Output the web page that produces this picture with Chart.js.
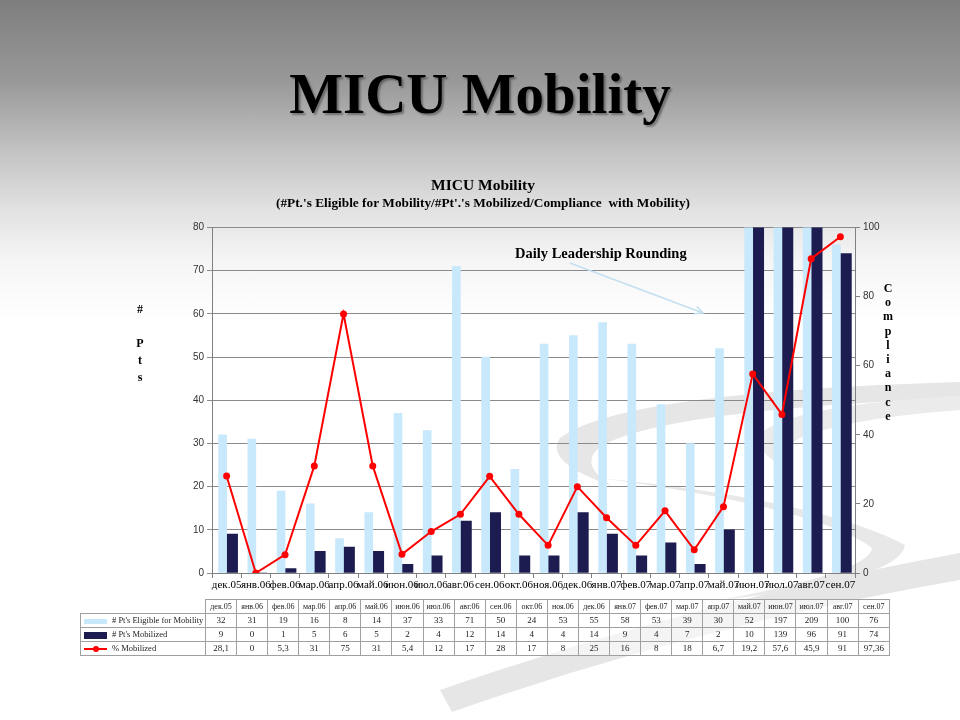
<!DOCTYPE html>
<html><head><meta charset="utf-8">
<script src="https://cdn.jsdelivr.net/npm/chart.js@4"></script>
<style>
html,body{margin:0;padding:0;}
body{width:960px;height:720px;overflow:hidden;position:relative;
background:linear-gradient(to bottom,#7e7e7e 0px,#989898 80px,#c2c2c2 150px,#e2e2e2 210px,#f5f5f5 260px,#ffffff 320px);}
#deco{position:absolute;left:0;top:0;}
#title{position:absolute;left:0;top:65px;width:960px;text-align:center;font:bold 57px/57px 'Liberation Serif',serif;color:#000;text-shadow:2px 2px 2px rgba(0,0,0,0.35);}
#c{position:absolute;left:0;top:0;}
#tbl{position:absolute;left:80px;top:599px;border-collapse:collapse;font-family:'Liberation Serif',serif;font-size:9px;color:#222;table-layout:fixed;width:810px;background:rgba(255,255,255,0.55);}
#tbl td{border:1px solid #a0a0a0;text-align:center;height:13px;padding:0;white-space:nowrap;overflow:hidden;line-height:13px;}
#tbl td.lab{text-align:left;padding-left:3px;font-size:8.5px;}
#tbl tr.hdr td{font-size:8px;}
#tbl td.blank{border:none;background:transparent;}
.key{display:inline-block;width:23px;vertical-align:middle;margin-right:5px;position:relative;}
</style></head>
<body>
<svg id="deco" width="960" height="720">
  <path d="M 960 382 Q 620 392 560 438 Q 543 462 612 486 Q 578 464 600 447 Q 660 410 960 398 Z" fill="#e6e6e6"/>
  <path d="M 960 396 Q 800 404 762 432 Q 750 452 792 470 Q 774 452 800 438 Q 850 418 960 410 Z" fill="#ebebeb"/>
  <path d="M 600 478 Q 820 500 905 545 Q 900 580 720 600 Q 870 572 872 548 Q 820 508 600 478 Z" fill="#e8e8e8"/>
  <path d="M 440 690 Q 700 600 960 553 L 960 580 Q 700 625 452 712 Z" fill="#e6e6e6"/>
</svg>
<div id="title">MICU Mobility</div>
<canvas id="c" width="960" height="720"></canvas>
<table id="tbl"></table>
<script>
const labels = ['дек.05','янв.06','фев.06','мар.06','апр.06','май.06','июн.06','июл.06','авг.06','сен.06','окт.06','ноя.06','дек.06','янв.07','фев.07','мар.07','апр.07','май.07','июн.07','июл.07','авг.07','сен.07'];
const eligible = [32,31,19,16,8,14,37,33,71,50,24,53,55,58,53,39,30,52,197,209,100,76];
const mobilized = [9,0,1,5,6,5,2,4,12,14,4,4,14,9,4,7,2,10,139,96,91,74];
const pctMobilized = [28.1,0,5.3,31,75,31,5.4,12,17,28,17,8,25,16,8,18,6.7,19.2,57.6,45.9,91,97.36];
const seriesNames = ["# Pt's Eligible for Mobility", "# Pt's Mobilized", "% Mobilized"];
const leftTitle = ['#','','P','t','s'];
const rightTitle = ['C','o','m','p','l','i','a','n','c','e'];
const leftMax = 80, leftStep = 10, rightMax = 100, rightStep = 20;

const COL_ELIG = '#c8e8fb', COL_MOB = '#1c1c50', COL_PCT = '#ff0000';

// data table
(function(){
  const t = document.getElementById('tbl');
  let html = '<colgroup><col style="width:125px">' + labels.map(()=>'<col>').join('') + '</colgroup>';
  html += '<tr class="hdr"><td class="blank"></td>' + labels.map(l=>'<td>'+l+'</td>').join('') + '</tr>';
  const keys = [
    '<span class="key" style="height:5px;background:'+COL_ELIG+'"></span>',
    '<span class="key" style="height:7px;background:'+COL_MOB+'"></span>',
    '<span class="key" style="height:2px;background:'+COL_PCT+'"><span style="position:absolute;left:9px;top:-2.5px;width:6px;height:6px;border-radius:3px;background:'+COL_PCT+'"></span></span>'
  ];
  const rows = [eligible, mobilized, pctMobilized];
  rows.forEach((r,i)=>{
    html += '<tr><td class="lab">'+keys[i]+seriesNames[i]+'</td>' + r.map(v=>'<td>'+String(v).replace('.',',')+'</td>').join('') + '</tr>';
  });
  t.innerHTML = html;
})();

const decor = {
  id:'decor',
  afterDraw(chart){
    const c = chart.ctx; c.save();
    c.fillStyle = '#000'; c.textAlign='center'; c.textBaseline='middle';
    c.font = "bold 12px 'Liberation Serif'";
    leftTitle.forEach((ch,i)=>c.fillText(ch,140,310+i*17));
    rightTitle.forEach((ch,i)=>c.fillText(ch,888,289+i*14.2));
    c.font = "bold 14.5px 'Liberation Serif'"; c.textAlign='left';
    c.fillText('Daily Leadership Rounding',515,254);
    c.strokeStyle = '#c3dff0'; c.lineWidth = 1.5;
    const x1=570,y1=263,x2=703,y2=313;
    c.beginPath(); c.moveTo(x1,y1); c.lineTo(x2,y2); c.stroke();
    const a = Math.atan2(y2-y1,x2-x1);
    c.beginPath();
    c.moveTo(x2-9*Math.cos(a-0.45), y2-9*Math.sin(a-0.45));
    c.lineTo(x2,y2);
    c.lineTo(x2-9*Math.cos(a+0.45), y2-9*Math.sin(a+0.45));
    c.stroke();
    c.restore();
  }
};

const tickFont = {family:"'Liberation Sans'", size:10};
new Chart(document.getElementById('c'), {
  type:'bar',
  data:{ labels, datasets:[
    {type:'line', label:seriesNames[2], data:pctMobilized, yAxisID:'y1', borderColor:COL_PCT, backgroundColor:COL_PCT,
     borderWidth:2, pointRadius:3.5, pointBackgroundColor:COL_PCT, pointBorderWidth:0, tension:0, order:0},
    {label:seriesNames[0], data:eligible, backgroundColor:COL_ELIG, barThickness:8, order:1, yAxisID:'y'},
    {label:seriesNames[1], data:mobilized, backgroundColor:COL_MOB, barThickness:11, order:1, yAxisID:'y'}
  ]},
  options:{
    responsive:false, animation:false, devicePixelRatio:1,
    layout:{padding:{top:177,left:81,right:75,bottom:127}},
    plugins:{
      legend:{display:false}, tooltip:{enabled:false},
      title:{display:true, text:'MICU Mobility', color:'#000', font:{family:"'Liberation Serif'", size:15.5, weight:'bold'}, padding:{top:0,bottom:0}},
      subtitle:{display:true, text:"(#Pt.'s Eligible for Mobility/#Pt'.'s Mobilized/Compliance  with Mobility)", color:'#000', font:{family:"'Liberation Serif'", size:13.3, weight:'bold'}, padding:{top:0,bottom:16}}
    },
    scales:{
      x:{ grid:{drawOnChartArea:false, drawTicks:true, tickLength:5, color:'#808080', offset:true},
          border:{color:'#808080'},
          ticks:{autoSkip:false, maxRotation:0, minRotation:0, padding:1, color:'#000', font:{family:"'Liberation Serif'", size:11}},
          afterFit(s){ s.height = 20; } },
      y:{ position:'left', min:0, max:leftMax, ticks:{stepSize:leftStep, color:'#333', font:tickFont, padding:3},
          grid:{color:'#8a8a8a', tickLength:5}, border:{color:'#808080'},
          afterFit(s){ s.width = 131; } },
      y1:{ position:'right', min:0, max:rightMax, ticks:{stepSize:rightStep, color:'#333', font:tickFont, padding:3},
          grid:{drawOnChartArea:false, tickLength:5, color:'#808080'}, border:{color:'#808080'},
          afterFit(s){ s.width = 30; } }
    }
  },
  plugins:[decor]
});
</script>
</body></html>
